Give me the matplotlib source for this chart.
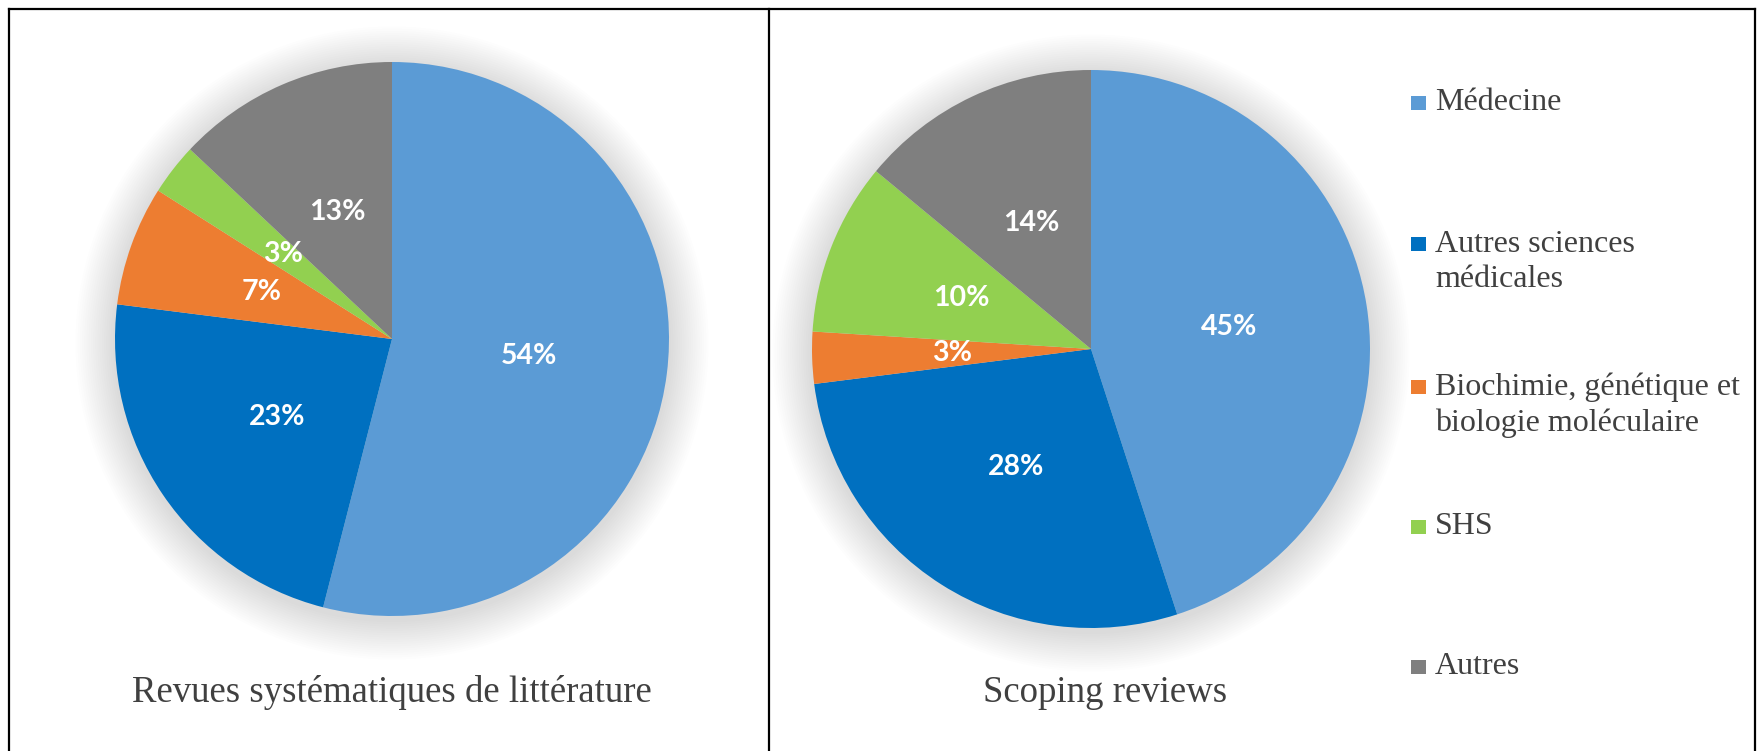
import matplotlib as mpl
mpl.use('Agg')
import matplotlib.pyplot as plt
from matplotlib.patches import Circle, Rectangle
from matplotlib.lines import Line2D

# data
categories = ["Médecine", "Autres sciences\nmédicales",
              "Biochimie, génétique et\nbiologie moléculaire", "SHS", "Autres"]
revues = [54, 23, 7, 3, 13]
scoping = [45, 28, 3, 10, 14]
titles = ["Revues systématiques de littérature", "Scoping reviews"]
couleurs = ["#5B9BD5", "#0070C0", "#ED7D31", "#92D050", "#7F7F7F"]

W, H = 1758, 751
fig = plt.figure(figsize=(W / 100, H / 100), dpi=100)
ax = fig.add_axes([0, 0, 1, 1])


def Y(y):
    return H - y


def camembert(vals, cx, cy, r, titre, tx, ty):
    # ombre douce autour du disque
    for k in range(18, 0, -1):
        ax.add_patch(Circle((cx, Y(cy) - 4), r + k * 2.2, color="#000000",
                            alpha=0.0075, lw=0, zorder=0))
    wedges, txt, autotxt = ax.pie(vals, center=(cx, Y(cy)), radius=r,
                                  startangle=90, counterclock=False,
                                  colors=couleurs, autopct=lambda p: f"{p:.0f}%",
                                  pctdistance=0.5, frame=True,
                                  wedgeprops=dict(linewidth=0))
    for w in wedges:
        w.set_zorder(2)
    for t in autotxt:
        t.set_color("white")
        t.set_fontfamily("Lato")
        t.set_fontweight("bold")
        t.set_fontsize(20.5)
        t.set_zorder(3)
    ax.text(tx, Y(ty), titre, ha="center", va="center", fontsize=26.5,
            family="Liberation Serif", color="#404040")


camembert(revues, 392, 339, 277, titles[0], 392, 693)
camembert(scoping, 1091, 349, 279, titles[1], 1105, 693)

# legende
leg_y = [103, 262, 405, 527, 667]
for c, lab, y in zip(couleurs, categories, leg_y):
    nl = lab.count("\n")
    y0 = y - nl * 18
    ax.add_patch(Rectangle((1411, Y(y0) - 7), 15, 14, color=c, lw=0))
    ax.text(1435, Y(y), lab, ha="left", va="center", fontsize=23,
            family="Liberation Serif", color="#404040", linespacing=1.3)

# cadres
for xs, ys in [([9, 1755], [9, 9]), ([9, 9], [9, 751]),
               ([1755, 1755], [9, 751]), ([769, 769], [9, 751])]:
    ax.add_line(Line2D(xs, [Y(v) for v in ys], color="black", lw=1.6))

ax.set_xlim(0, W)
ax.set_ylim(0, H)
ax.axis("off")
fig.savefig("out.png", dpi=100)
